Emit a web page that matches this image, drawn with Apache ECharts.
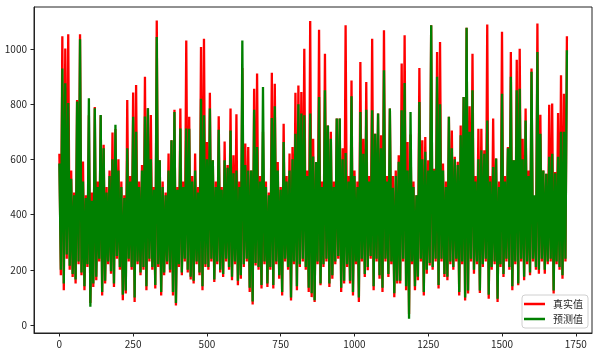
<!DOCTYPE html>
<html>
<head>
<meta charset="utf-8">
<script src="https://cdn.jsdelivr.net/npm/echarts@6/dist/echarts.min.js"></script>
<style>
html,body{margin:0;padding:0;background:#fff;}
#chart{width:599px;height:355px;}
</style>
</head>
<body>
<div id="chart"></div>
<script>
// sample index step (every 5th sample of the original series)
const sampleStep = 5;
const seriesNames = ['真实值', '预测值'];
const xTicks = [0, 250, 500, 750, 1000, 1250, 1500, 1750];
const yTicks = [0, 200, 400, 600, 800, 1000];

// 真实值 (actual), read at every 5th sample
const actual = [
  620,180, 1046,126, 1002,240, 1053,200, 560,174, 480,150, 815,220, 1053,180, 592,126, 470,210,
  760,80, 480,138, 790,162, 520,230, 760,107, 653,150, 500,220, 560,186, 697,138, 710,240,
  600,200, 520,90, 470,114, 815,230, 540,200, 842,83, 869,220, 520,180, 580,200, 899,126,
  785,230, 761,200, 500,132, 1103,210, 597,107, 520,180, 480,220, 621,190, 669,107, 780,71,
  500,210, 784,180, 520,230, 1031,190, 754,165, 540,150, 621,220, 500,180, 1007,126, 1037,210,
  663,200, 841,230, 597,156, 520,220, 756,190, 500,174, 665,230, 580,200, 784,162, 615,220,
  763,144, 520,168, 931,210, 657,230, 645,120, 560,74, 856,216, 911,200, 540,132, 700,220,
  520,138, 480,200, 914,132, 874,220, 590,168, 500,107, 729,230, 540,200, 621,89, 645,220,
  841,126, 868,210, 844,230, 1001,200, 560,120, 1101,101, 675,83, 590,220, 1070,144, 520,210,
  983,230, 723,138, 700,168, 520,220, 748,240, 748,120, 640,150, 1086,210, 540,150, 886,107,
  560,220, 520,83, 953,230, 675,174, 880,198, 540,240, 1037,126, 693,230, 766,168, 687,120,
  1068,230, 540,174, 784,220, 540,101, 560,150, 615,150, 947,230, 1050,126, 663,40, 690,220,
  520,126, 470,162, 931,230, 669,107, 681,186, 597,216, 1086,200, 566,230, 989,132, 1025,230,
  585,174, 520,162, 754,220, 705,200, 609,230, 591,107, 723,220, 826,89, 1077,114, 792,230,
  983,186, 540,220, 711,116, 711,210, 633,230, 1089,95, 540,200, 748,220, 603,83, 520,210,
  1062,174, 540,230, 645,200, 989,126, 597,220, 961,144, 1001,230, 675,162, 784,220, 560,180,
  929,230, 464,200, 1092,186, 762,230, 560,186, 548,220, 798,230, 802,114, 554,220, 768,200,
  905,168, 838,230, 1046
];

// 预测值 (predicted), read at every 5th sample
const predicted = [
  585,200, 929,150, 876,255, 804,215, 530,185, 470,165, 810,230, 1035,190, 520,140, 460,220,
  821,66, 450,150, 785,175, 500,240, 761,120, 640,160, 480,230, 540,195, 600,150, 725,250,
  560,210, 500,110, 460,125, 640,240, 520,210, 754,100, 700,230, 500,190, 560,210, 755,140,
  785,240, 600,210, 490,145, 1043,220, 597,120, 500,190, 470,230, 560,200, 669,120, 772,80,
  490,220, 712,190, 500,240, 712,200, 711,175, 520,160, 560,230, 480,190, 820,140, 760,220,
  600,210, 784,240, 597,165, 500,230, 707,200, 490,185, 597,240, 570,210, 705,175, 550,230,
  560,160, 500,180, 1031,220, 580,240, 560,135, 560,85, 780,225, 645,210, 520,145, 862,230,
  500,150, 470,210, 750,145, 792,230, 560,180, 490,120, 663,240, 520,210, 560,100, 600,230,
  693,140, 800,220, 766,240, 760,210, 540,135, 766,115, 610,90, 590,230, 826,150, 500,220,
  850,240, 723,150, 675,180, 500,230, 748,250, 748,135, 600,160, 623,220, 520,160, 829,120,
  540,230, 500,100, 772,240, 620,185, 780,210, 520,250, 778,140, 693,240, 766,180, 640,135,
  923,240, 520,185, 784,230, 497,115, 540,160, 591,160, 778,240, 877,140, 560,23, 772,230,
  500,140, 470,175, 808,240, 600,120, 628,200, 560,225, 1086,210, 560,240, 899,145, 800,240,
  560,185, 500,175, 754,230, 640,210, 600,240, 580,120, 687,230, 826,100, 1077,125, 700,240,
  850,200, 520,230, 600,125, 633,220, 620,240, 741,110, 520,210, 572,230, 603,95, 500,220,
  838,185, 520,240, 640,210, 899,140, 597,230, 850,150, 856,240, 600,175, 741,230, 540,190,
  917,240, 470,210, 989,200, 693,240, 560,200, 548,230, 609,240, 620,125, 550,230, 609,210,
  700,180, 700,240, 995
];

const toPairs = arr => arr.map((v, i) => [i * sampleStep, v]);

const chart = echarts.init(document.getElementById('chart'), null, {renderer: 'canvas'});
const labelFont = {fontFamily: '"Noto Sans CJK SC", "DejaVu Sans", sans-serif', fontSize: 10, color: '#262626'};
const plain = v => String(v);
chart.setOption({
  animation: false,
  backgroundColor: '#fff',
  grid: {left: 34, right: 7, top: 7, bottom: 22, show: true, borderColor: '#222', borderWidth: 1, containLabel: false, outerBoundsMode: 'none'},
  legend: {
    data: seriesNames,
    orient: 'vertical',
    right: 11,
    bottom: 27,
    icon: 'rect',
    itemWidth: 21,
    itemHeight: 2.5,
    itemGap: 3,
    padding: [3, 5, 3, 2],
    backgroundColor: 'rgba(255,255,255,0.85)',
    borderColor: '#d0d0d0',
    borderWidth: 1,
    borderRadius: 3,
    textStyle: Object.assign({}, labelFont, {fontSize: 10, lineHeight: 12, padding: [0, 0, 0, 3]})
  },
  xAxis: {
    type: 'value', min: -86, max: 1805,
    splitLine: {show: false},
    axisLine: {show: true, onZero: false, lineStyle: {color: '#222', width: 1}},
    axisTick: {show: true, length: 3.5, customValues: xTicks, lineStyle: {color: '#222'}},
    axisLabel: Object.assign({show: true, margin: 6, customValues: xTicks, formatter: plain}, labelFont)
  },
  yAxis: {
    type: 'value', min: -29, max: 1152,
    splitLine: {show: false},
    axisLine: {show: true, onZero: false, lineStyle: {color: '#222', width: 1}},
    axisTick: {show: true, length: 3.5, customValues: yTicks, lineStyle: {color: '#222'}},
    axisLabel: Object.assign({show: true, margin: 7, customValues: yTicks, formatter: plain}, labelFont)
  },
  series: [
    {name: seriesNames[0], type: 'line', data: toPairs(actual), showSymbol: false, symbol: 'none',
     color: '#ff0000', lineStyle: {color: '#ff0000', width: 2.3}, z: 2},
    {name: seriesNames[1], type: 'line', data: toPairs(predicted), showSymbol: false, symbol: 'none',
     color: '#008000', lineStyle: {color: '#008000', width: 2.3}, z: 3}
  ]
});
</script>
</body>
</html>
